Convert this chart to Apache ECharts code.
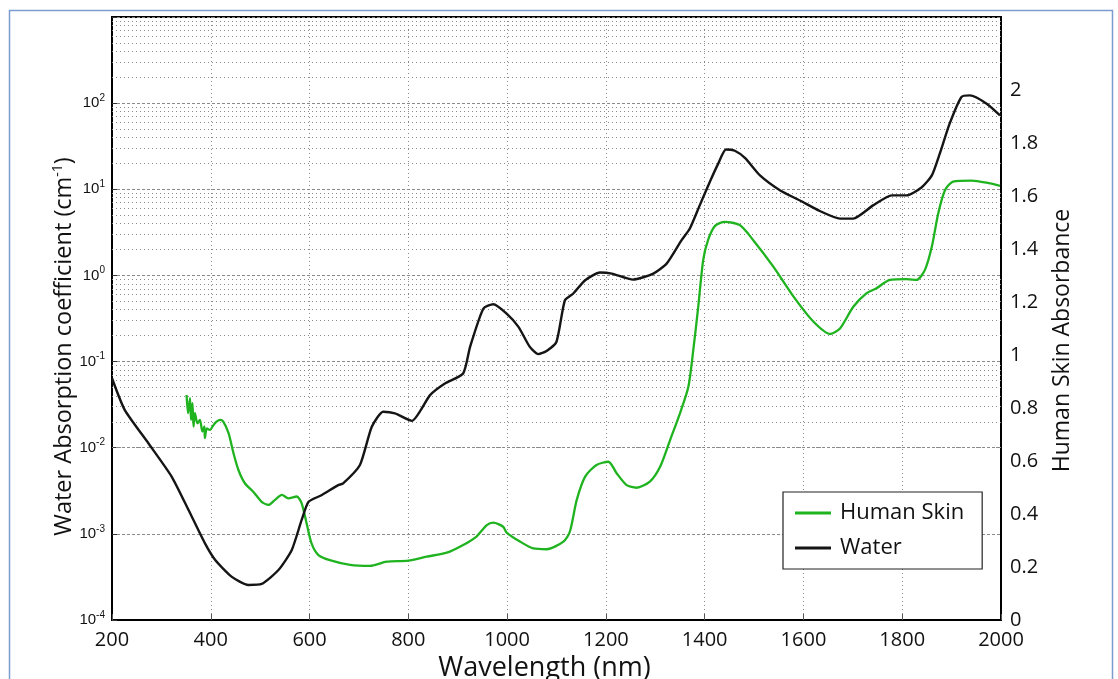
<!DOCTYPE html>
<html>
<head>
<meta charset="utf-8">
<script src="https://cdn.jsdelivr.net/npm/echarts@6/dist/echarts.min.js"></script>
<style>
html,body{margin:0;padding:0;background:#fff;}
#c{width:1118px;height:679px;}
</style>
</head>
<body>
<div id="c"></div>
<script>
// Wavelength ticks (nm)
const xTicks = [200, 400, 600, 800, 1000, 1200, 1400, 1600, 1800, 2000];
const rightTicks = [0, 0.2, 0.4, 0.6, 0.8, 1, 1.2, 1.4, 1.6, 1.8, 2];

// Water absorption coefficient (cm^-1), log axis
const waterNm = [200, 226, 274, 321, 355, 388, 409, 442, 476, 503, 537, 564, 584, 598, 625, 658, 668, 702, 726, 749, 773, 807, 844, 874, 911, 925, 952, 972, 999, 1023, 1046, 1063, 1080, 1100, 1117, 1134, 1158, 1188, 1212, 1255, 1296, 1323, 1353, 1370, 1390, 1411, 1427, 1443, 1461, 1482, 1512, 1553, 1593, 1633, 1674, 1701, 1741, 1779, 1809, 1839, 1860, 1876, 1896, 1920, 1937, 1971, 1998];
const waterVal = [0.064, 0.0273, 0.0112, 0.0046, 0.00189, 0.00078, 0.000497, 0.000319, 0.000255, 0.000262, 0.00038, 0.00065, 0.00145, 0.00236, 0.00282, 0.00368, 0.00385, 0.0063, 0.0175, 0.0261, 0.025, 0.0205, 0.0408, 0.0557, 0.0728, 0.148, 0.413, 0.463, 0.361, 0.253, 0.148, 0.122, 0.133, 0.17, 0.515, 0.617, 0.88, 1.08, 1.05, 0.895, 1.05, 1.37, 2.55, 3.5, 6.5, 12.4, 19.6, 29, 28, 23, 14.5, 9.7, 7.4, 5.6, 4.57, 4.57, 6.5, 8.5, 8.5, 10.5, 14.5, 25.9, 57.8, 118, 123, 98.6, 72];

// Human skin absorbance (right axis)
const skinNm = [351, 354, 358, 360, 363, 365, 368, 373, 378, 383, 387, 388, 392, 398, 408, 419, 425, 436, 446, 456, 469, 486, 503, 517, 530, 544, 557, 574, 584, 594, 604, 618, 641, 682, 722, 756, 800, 837, 878, 911, 938, 959, 972, 992, 999, 1026, 1053, 1080, 1114, 1127, 1141, 1158, 1181, 1205, 1222, 1242, 1262, 1289, 1310, 1330, 1350, 1367, 1377, 1387, 1397, 1407, 1421, 1441, 1471, 1498, 1539, 1580, 1620, 1654, 1674, 1701, 1728, 1748, 1775, 1809, 1829, 1846, 1860, 1873, 1887, 1903, 1941, 1971, 1998];
const skinVal = [0.849, 0.78, 0.837, 0.755, 0.818, 0.73, 0.78, 0.742, 0.755, 0.711, 0.73, 0.686, 0.723, 0.717, 0.742, 0.755, 0.749, 0.705, 0.629, 0.566, 0.516, 0.484, 0.446, 0.434, 0.453, 0.472, 0.459, 0.466, 0.44, 0.365, 0.289, 0.245, 0.226, 0.208, 0.204, 0.22, 0.224, 0.239, 0.254, 0.283, 0.315, 0.358, 0.367, 0.352, 0.33, 0.296, 0.27, 0.267, 0.296, 0.333, 0.453, 0.541, 0.585, 0.597, 0.553, 0.509, 0.499, 0.522, 0.579, 0.679, 0.78, 0.88, 1.019, 1.182, 1.358, 1.434, 1.487, 1.502, 1.49, 1.434, 1.333, 1.22, 1.126, 1.079, 1.1, 1.182, 1.233, 1.252, 1.283, 1.286, 1.283, 1.321, 1.409, 1.535, 1.623, 1.654, 1.658, 1.65, 1.638];

// minor log gridline positions (2..9 x 10^n)
const minorGrid = [];
for (let e = -4; e <= 2; e++) for (let m = 2; m <= 9; m++) minorGrid.push(m * Math.pow(10, e));

const waterData = waterNm.map((x, i) => [x, waterVal[i]]);
const skinData = skinNm.map((x, i) => [x, skinVal[i]]);

const calib = '"Open Sans", "Noto Sans", sans-serif';
const arial = '"Liberation Sans", Arial, sans-serif';

const chart = echarts.init(document.getElementById('c'), null, {renderer: 'canvas'});
chart.setOption({
  backgroundColor: '#fff',
  animation: false,
  graphic: [{
    type: 'rect', left: 7, top: 8, z: 100, silent: true,
    shape: {width: 1103, height: 720},
    style: {fill: 'none', stroke: '#7b9dd0', lineWidth: 1.5}
  }],
  grid: {left: 112, right: 117, top: 17, bottom: 59, show: true, borderColor: '#000', borderWidth: 2,
    backgroundColor: 'transparent', outerBoundsMode: 'none', containLabel: false},
  legend: {
    orient: 'vertical', left: 783, top: 492,
    backgroundColor: '#fff', borderColor: '#222', borderWidth: 1.2,
    padding: [10, 18, 10, 12], itemGap: 13, itemWidth: 36, itemHeight: 3,
    icon: 'rect',
    textStyle: {fontFamily: calib, fontSize: 22, color: '#111', padding: [0, 0, 0, 4]},
    data: ['Human Skin', 'Water']
  },
  xAxis: {
    type: 'value', min: 200, max: 2000, interval: 200,
    name: 'Wavelength (nm)', nameLocation: 'middle', nameGap: 35, nameMoveOverlap: false,
    nameTextStyle: {fontFamily: calib, fontSize: 27, color: '#111', padding: [0, 24, 0, 0]},
    axisLine: {onZero: false, lineStyle: {color: '#000', width: 2}},
    axisTick: {inside: true, length: 6, lineStyle: {color: '#555'}},
    axisLabel: {fontFamily: calib, fontSize: 20, color: '#111', margin: 10,
      formatter: function (v) { return String(v); }},
    splitLine: {show: true, lineStyle: {type: [1, 3], color: '#8a8a8a', width: 1}}
  },
  yAxis: [{
    type: 'log', logBase: 10, min: 1e-4, max: 1e3, interval: 1, splitNumber: 7, position: 'left',
    name: 'Water Absorption coefficient (cm{s|-1})', nameLocation: 'middle', nameGap: 35, nameMoveOverlap: false,
    nameTextStyle: {fontFamily: calib, fontSize: 23.5, color: '#111', padding: [0, 0, 0, -56], lineHeight: 26,
      rich: {s: {fontFamily: calib, fontSize: 14, lineHeight: 14, verticalAlign: 'top'}}},
    axisLine: {onZero: false, lineStyle: {color: '#000', width: 2}},
    axisTick: {inside: true, length: 5, lineStyle: {color: '#333'}},
    axisLabel: {
      margin: 7,
      formatter: function (v) {
        const e = Math.round(Math.log10(v));
        if (e > 2) return '';
        return '{b|10}{e|' + e + '}';
      },
      rich: {
        b: {fontFamily: arial, fontSize: 15, color: '#111', lineHeight: 20},
        e: {fontFamily: arial, fontSize: 10, color: '#111', lineHeight: 10, verticalAlign: 'top'}
      }
    },
    splitLine: {show: true, lineStyle: {type: [3, 2], color: '#8a8a8a', width: 1}}
  }, {
    type: 'value', min: 0, max: 2.275, interval: 0.2, position: 'right',
    name: 'Human Skin Absorbance', nameLocation: 'middle', nameGap: 50, nameMoveOverlap: false,
    nameTextStyle: {fontFamily: calib, fontSize: 23, color: '#111', padding: [0, 0, 0, -44]},
    axisLine: {show: true, lineStyle: {color: '#000', width: 2}},
    axisTick: {show: false},
    axisLabel: {
      fontFamily: calib, fontSize: 20, color: '#111', margin: 9,
      formatter: function (v) { return v > 2.01 ? '' : String(Math.round(v * 10) / 10); }
    },
    splitLine: {show: false}
  }],
  series: [{
    name: 'Human Skin', type: 'line', yAxisIndex: 1, data: skinData,
    showSymbol: false, symbol: 'none', smooth: 0.25, z: 3,
    lineStyle: {color: '#1fb31f', width: 2.3}, itemStyle: {color: '#1fb31f'}
  }, {
    name: 'Water', type: 'line', yAxisIndex: 0, data: waterData,
    showSymbol: false, symbol: 'none', smooth: 0.2, z: 4,
    lineStyle: {color: '#151515', width: 2.4}, itemStyle: {color: '#151515'}
  }, {
    name: 'grid-minor', type: 'line', yAxisIndex: 0, data: [], z: 1, silent: true,
    markLine: {
      z: 1, silent: true, symbol: 'none', animation: false,
      label: {show: false},
      lineStyle: {type: [1, 3], color: '#8a8a8a', width: 1},
      emphasis: {disabled: true},
      data: minorGrid.map(v => ({yAxis: v}))
    }
  }]
});
</script>
</body>
</html>
